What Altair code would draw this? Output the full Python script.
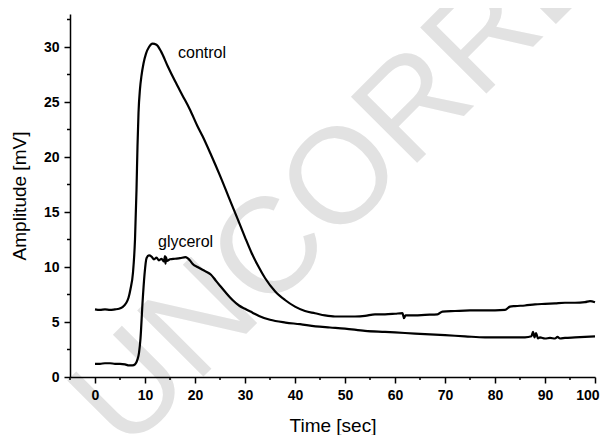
import altair as alt
import pandas as pd

# ---- data ----
ctrl_t = [0, 1, 2, 3, 4, 4.8, 5.5, 6.2, 6.7, 7.1, 7.6, 8.0, 8.3, 8.5, 8.7, 9.0, 9.3, 9.7, 10.2, 10.8,
          11.5, 12.3, 13.2, 14.5, 16, 17.5, 19, 20.5, 21.5, 23.2, 25, 26.7, 28.5, 30, 31.3, 32.5, 34, 36, 38, 40,
          42, 44, 46, 48, 50, 52, 54, 56, 58, 60, 61.5, 61.8, 62.1, 62.5, 64, 66, 68.5, 69.5, 72, 75,
          78, 82, 83, 84, 86, 88, 90, 92, 94, 96, 98, 99, 100]
ctrl_v = [6.15, 6.1, 6.15, 6.1, 6.15, 6.2, 6.35, 6.7, 7.2, 8.0, 9.5, 12.5, 17.0, 21.0, 24.0, 26.2, 27.4, 28.5, 29.4, 30.0,
          30.3, 30.2, 29.6, 28.3, 26.9, 25.6, 24.3, 22.8, 21.9, 20.2, 18.3, 16.4, 14.4, 12.7, 11.3, 10.2, 9.0, 7.8, 7.0, 6.4,
          6.0, 5.8, 5.6, 5.5, 5.5, 5.5, 5.55, 5.7, 5.7, 5.75, 5.8, 5.35, 5.6, 5.6, 5.6, 5.65, 5.7, 5.95, 6.0, 6.05,
          6.05, 6.1, 6.4, 6.45, 6.5, 6.6, 6.65, 6.7, 6.75, 6.75, 6.8, 6.9, 6.8]

gly_t = [0, 1, 2, 3, 4, 5, 6, 6.8, 7.5, 8.0, 8.5, 8.8, 9.1, 9.5, 9.9, 10.3, 10.8, 11.3, 11.8, 12.3,
         12.8, 13.3, 13.8, 14.0, 14.1, 14.2, 14.4, 15, 16, 17, 18.1, 19.0, 19.5, 20.5, 22.1, 23.2, 24.1, 25, 26.1, 27.5,
         28.8, 30, 31.5, 32.8, 35, 38.1, 41, 44.1, 47, 50, 54, 58, 62, 66, 70, 74, 78, 82, 86, 87.3,
         87.6, 87.9, 88.2, 88.6, 89, 90, 91, 92, 92.5, 93, 94, 96, 98, 100]
gly_v = [1.2, 1.2, 1.25, 1.25, 1.2, 1.2, 1.15, 1.05, 1.05, 1.15, 1.6, 2.2, 3.5, 6.7, 9.3, 10.8, 11.05, 10.95, 10.7, 10.85,
         10.6, 10.75, 10.5, 11.0, 10.3, 10.9, 10.55, 10.7, 10.75, 10.8, 10.9, 10.6, 10.3, 10.0, 9.6, 9.3, 8.8, 8.3, 7.7, 7.0,
         6.5, 6.2, 5.85, 5.55, 5.2, 4.95, 4.8, 4.6, 4.5, 4.4, 4.2, 4.1, 4.0, 3.9, 3.8, 3.7, 3.6, 3.6, 3.6, 3.7,
         4.1, 3.6, 4.0, 3.5, 3.6, 3.5, 3.55, 3.5, 3.65, 3.5, 3.55, 3.6, 3.65, 3.7]

label_names = ["control", "glycerol"]
label_t = [16.6, 12.6]
label_v = [29.0, 11.8]

x_major = list(range(0, 101, 10))
x_minor = list(range(-5, 100, 10))
y_major = list(range(0, 31, 5))
y_minor = [2.5, 7.5, 12.5, 17.5, 22.5, 27.5, 32.5]
watermark_text = ["UNCORRECTED"]

# ---- tables ----
df = pd.concat([
    pd.DataFrame({"t": ctrl_t, "v": ctrl_v, "series": "control"}),
    pd.DataFrame({"t": gly_t, "v": gly_v, "series": "glycerol"}),
])
lab_df = pd.DataFrame({"t": label_t, "v": label_v, "name": label_names})
wm_df = pd.DataFrame({"w": watermark_text})
xmin_df = pd.DataFrame({"t": x_minor})
ymin_df = pd.DataFrame({"v": y_minor})

FONT = "Liberation Sans"
W, H = 525, 363

common_axis = dict(
    tickSize=6, labelPadding=5, labelFlush=False, labelOverlap=False,
    labelFont=FONT, labelFontSize=14, labelFontWeight="bold", labelColor="black",
    titleFont=FONT, titleFontSize=19, titleFontWeight="normal", titleColor="black",
    grid=False, domainColor="black", domainWidth=1.5, tickColor="black", tickWidth=1.5,
    zindex=2,
)
xaxis = alt.Axis(
    values=x_major, title="Time [sec]", titlePadding=14,
    labelAlign={"condition": {"test": "datum.value === 100", "value": "right"}, "value": "center"},
    labelOffset={"condition": {"test": "datum.value === 100", "value": 4}, "value": 0},
    **common_axis,
)
yaxis = alt.Axis(values=y_major, title="Amplitude [mV]", titlePadding=14, **common_axis)

xscale = alt.Scale(domain=[-5, 100], nice=False, zero=False)
yscale = alt.Scale(domain=[0, 33], nice=False, zero=False)

watermark = alt.Chart(wm_df).mark_text(
    angle=315, align="left", baseline="alphabetic", fontSize=136, font=FONT, color="#e2e2e2"
).encode(x=alt.value(56), y=alt.value(440), text="w:N")

lines = alt.Chart(df).mark_line(color="black", strokeWidth=2.2, interpolate="monotone").encode(
    x=alt.X("t:Q", scale=xscale, axis=xaxis),
    y=alt.Y("v:Q", scale=yscale, axis=yaxis),
    detail="series:N",
)

labels = alt.Chart(lab_df).mark_text(
    align="left", baseline="alphabetic", fontSize=16, font=FONT, color="black"
).encode(x=alt.X("t:Q", scale=xscale, axis=xaxis), y=alt.Y("v:Q", scale=yscale, axis=yaxis), text="name:N")

xminor = alt.Chart(xmin_df).mark_rule(color="black", strokeWidth=1.5).encode(
    x=alt.X("t:Q", scale=xscale, axis=xaxis), y=alt.value(H), y2=alt.value(H + 3)
)
yminor = alt.Chart(ymin_df).mark_rule(color="black", strokeWidth=1.5).encode(
    y=alt.Y("v:Q", scale=yscale, axis=yaxis), x=alt.value(0), x2=alt.value(-3)
)

chart = alt.layer(watermark, lines, labels, xminor, yminor).properties(
    width=W, height=H,
    autosize=alt.AutoSizeParams(type="none"),
    padding={"left": 62, "top": 6, "right": 5, "bottom": 58},
).configure_view(stroke=None)

chart.save("out.html", embed_options={"renderer": "svg", "actions": False})
